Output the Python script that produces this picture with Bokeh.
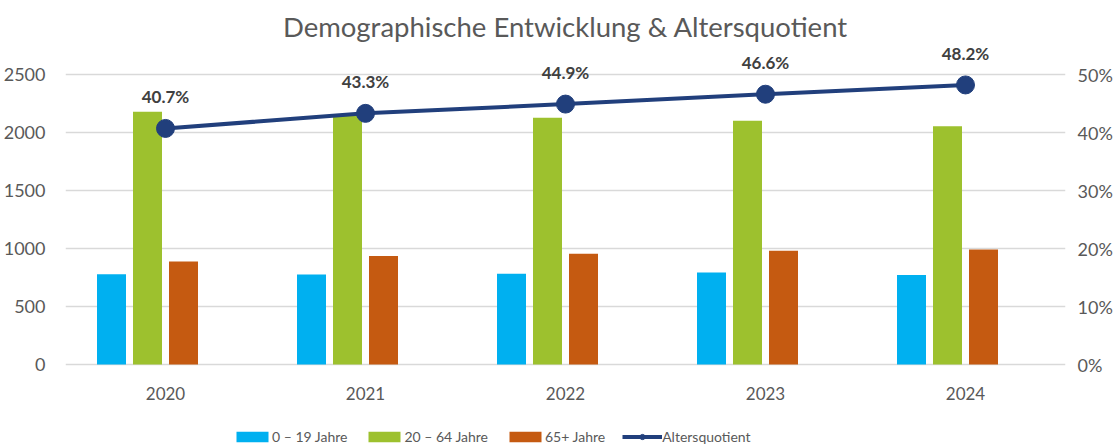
from bokeh.plotting import figure
from bokeh.models import (ColumnDataSource, Range1d, LinearAxis, FixedTicker,
                          NumeralTickFormatter, Legend, LegendItem, FactorRange)
from bokeh.transform import dodge
from bokeh.core.properties import value
from bokeh.embed import file_html
from bokeh.resources import INLINE

years = ["2020", "2021", "2022", "2023", "2024"]
age_0_19 = [778, 776, 783, 793, 772]
age_20_64 = [2180, 2158, 2128, 2102, 2055]
age_65 = [888, 935, 955, 980, 991]
quotient = [0.407, 0.433, 0.449, 0.466, 0.482]
left_ticks = [0, 500, 1000, 1500, 2000, 2500]
right_ticks = [0.0, 0.1, 0.2, 0.3, 0.4, 0.5]
series_names = ["0 \u2013 19 Jahre", "20 \u2013 64 Jahre", "65+ Jahre", "Altersquotient"]
title_text = "Demographische Entwicklung & Altersquotient"

FONT = "Lato"
GRAY = "#595959"

src = ColumnDataSource(dict(
    year=years, a=age_0_19, b=age_20_64, c=age_65, q=quotient,
    qlabel=[f"{v*100:.1f}%" for v in quotient],
    zero=[0] * len(years),
))

# frame extends around the value axis so data labels, year labels and legend sit inside it
Y0, Y1 = -698, 2750
p = figure(width=1118, height=445, x_range=FactorRange(*years),
           y_range=Range1d(Y0, Y1), output_backend="svg",
           toolbar_location=None, x_axis_location=None,
           min_border_left=65, min_border_right=53,
           min_border_top=45, min_border_bottom=0)
p.extra_y_ranges = {"pct": Range1d(Y0 / 5000, Y1 / 5000)}

p.title.text = title_text
p.title.align = "center"
p.title.text_font = FONT
p.title.text_font_size = "27.5px"
p.title.text_font_style = "normal"
p.title.text_color = GRAY
p.title.text_baseline = "alphabetic"
p.title.standoff = 5

p.outline_line_color = None
p.background_fill_color = "white"
p.border_fill_color = "white"

bw = 0.145
r1 = p.vbar(x=dodge("year", -0.27, range=p.x_range), top="a", width=bw, source=src,
            fill_color="#00B0F0", line_color=None)
r2 = p.vbar(x=dodge("year", -0.09, range=p.x_range), top="b", width=bw, source=src,
            fill_color="#9DC12E", line_color=None)
r3 = p.vbar(x=dodge("year", 0.09, range=p.x_range), top="c", width=bw, source=src,
            fill_color="#C55A11", line_color=None)

lc = "#213F7C"
r4 = p.line(x="year", y="q", source=src, y_range_name="pct", line_color=lc, line_width=4)
r5 = p.scatter(x="year", y="q", source=src, y_range_name="pct", size=18,
               fill_color=lc, line_color=lc)
p.text(x="year", y="q", text="qlabel", source=src, y_range_name="pct",
       text_font=value(FONT), text_font_size="17px", text_font_style="bold",
       text_color="#404040", text_align="center", text_baseline="bottom", y_offset=-21)

# category labels under the zero line
p.text(x="year", y="zero", text="year", source=src,
       text_font=value(FONT), text_font_size="17px", text_color=GRAY,
       text_align="center", text_baseline="middle", y_offset=29)

# axes
p.yaxis.ticker = FixedTicker(ticks=left_ticks)
p.yaxis.axis_line_color = None
p.yaxis.major_tick_line_color = None
p.yaxis.minor_tick_line_color = None
p.yaxis.major_label_standoff = 14
p.yaxis.major_label_text_font = FONT
p.yaxis.major_label_text_font_size = "18px"
p.yaxis.major_label_text_color = GRAY

ra = LinearAxis(y_range_name="pct", ticker=FixedTicker(ticks=right_ticks),
                formatter=NumeralTickFormatter(format="0%"))
ra.axis_line_color = None
ra.major_tick_line_color = None
ra.minor_tick_line_color = None
ra.major_label_standoff = 6
ra.major_label_text_font = FONT
ra.major_label_text_font_size = "18px"
ra.major_label_text_color = GRAY
p.add_layout(ra, "right")

p.xgrid.grid_line_color = None
p.ygrid.grid_line_color = "#D9D9D9"
p.ygrid.grid_line_width = 1.5

legend = Legend(items=[
    LegendItem(label=series_names[0], renderers=[r1]),
    LegendItem(label=series_names[1], renderers=[r2]),
    LegendItem(label=series_names[2], renderers=[r3]),
    LegendItem(label=series_names[3], renderers=[r4, r5]),
], location=(167, 0), orientation="horizontal")
legend.background_fill_alpha = 0
legend.border_line_color = None
legend.padding = 0
legend.margin = 0
legend.spacing = 17
legend.glyph_width = 40
legend.glyph_height = 13
legend.label_standoff = 0
legend.label_text_font = FONT
legend.label_text_font_size = "14px"
legend.label_text_color = GRAY
legend.label_height = 14
p.add_layout(legend, "center")

open("out.html", "w").write(file_html(p, INLINE))
